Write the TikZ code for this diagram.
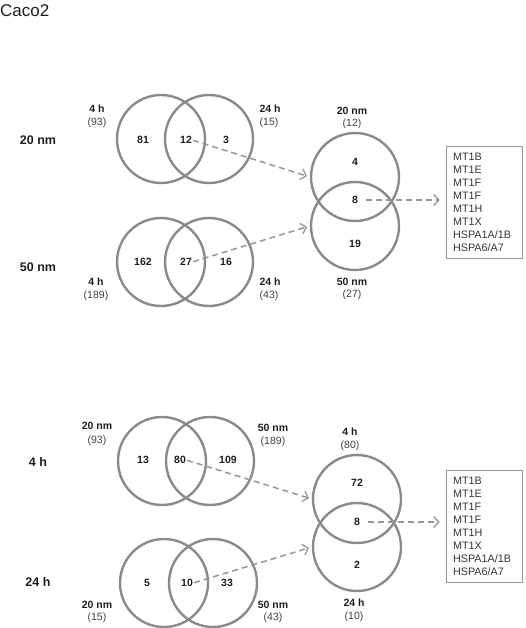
\documentclass[tikz,border=0pt]{standalone}
\usepackage{fontspec}
\setmainfont{Liberation Sans}
\usetikzlibrary{arrows.meta}
\definecolor{circgray}{RGB}{138,138,138}
\definecolor{arrgray}{RGB}{150,150,150}
\definecolor{txt}{RGB}{30,30,30}
\tikzset{
  vc/.style={circle,draw=circgray,line width=2.4pt,minimum size=88pt,inner sep=0pt},
  num/.style={font=\fontsize{10.5}{12}\selectfont\bfseries,text=txt,inner sep=0pt},
  lab/.style={font=\fontsize{10.5}{12}\selectfont\bfseries,text=txt,inner sep=0pt},
  cnt/.style={font=\fontsize{10.5}{12}\selectfont,text=txt!85,inner sep=0pt},
  rowlab/.style={font=\fontsize{12.5}{14}\selectfont\bfseries,text=txt,inner sep=0pt},
  dasharrow/.style={draw=arrgray,line width=1.5pt,dash pattern=on 6pt off 4pt,
    -{Straight Barb[length=5pt,width=11pt,line width=1.3pt]}},
  genebox/.style={draw=arrgray,line width=0.8pt,minimum width=76pt,minimum height=112pt,
    inner sep=0pt,align=left,text width=62pt,font=\fontsize{10.8}{13}\selectfont,text=txt!90},
}
\begin{document}
\begin{tikzpicture}[x=1pt,y=-1pt]
\useasboundingbox (0,0) rectangle (525,628);
\node[anchor=west,inner sep=0pt,font=\fontsize{17}{19}\selectfont,text=txt] (title) at (0,11) {Caco2};

% ---------- top section ----------
\node[rowlab] (r20) at (38,140) {20 nm};
\node[vc] (a1) at (161,139) {};
\node[vc] (a2) at (209,139) {};
\node[num] (n81) at (143,140) {81};
\node[num] (n12) at (186,140) {12};
\node[num] (n3) at (226,140) {3};
\node[lab] (la1) at (97,109) {4 h};
\node[cnt] (la1c) at (97,123) {(93)};
\node[lab] (la2) at (270,109) {24 h};
\node[cnt] (la2c) at (269,123) {(15)};

\node[rowlab] (r50) at (38,267) {50 nm};
\node[vc] (b1) at (161,262) {};
\node[vc] (b2) at (209,262) {};
\node[num] (n162) at (143,262) {162};
\node[num] (n27) at (186,262) {27};
\node[num] (n16) at (226,262) {16};
\node[lab] (lb1) at (96,282) {4 h};
\node[cnt] (lb1c) at (96,296) {(189)};
\node[lab] (lb2) at (270,282) {24 h};
\node[cnt] (lb2c) at (269,296) {(43)};

\node[vc] (e1) at (355,177) {};
\node[vc] (e2) at (355,226) {};
\node[num] (n4) at (355,162) {4};
\node[num] (n8a) at (355,200) {8};
\node[num] (n19) at (355,244) {19};
\node[lab] (le1) at (352,111) {20 nm};
\node[cnt] (le1c) at (352,124) {(12)};
\node[lab] (le2) at (352,282) {50 nm};
\node[cnt] (le2c) at (352,295) {(27)};

\node[genebox] (box1) at (484,202) {MT1B\\MT1E\\MT1F\\MT1F\\MT1H\\MT1X\\HSPA1A/1B\\HSPA6/A7};

\draw[dasharrow,shorten <=1pt,shorten >=3pt] (n12.east) -- (e1.west);
\draw[dasharrow,shorten <=1pt,shorten >=3pt] (n27.east) -- (e2.west);
\draw[dasharrow,shorten <=8pt,shorten >=6pt] (n8a.east) -- (box1.west |- n8a);

% ---------- bottom section ----------
\node[rowlab] (r4) at (38,462) {4 h};
\node[vc] (c1) at (162,461) {};
\node[vc] (c2) at (210,461) {};
\node[num] (n13) at (143,460) {13};
\node[num] (n80) at (180,460) {80};
\node[num] (n109) at (228,460) {109};
\node[lab] (lc1) at (97,426) {20 nm};
\node[cnt] (lc1c) at (97,441) {(93)};
\node[lab] (lc2) at (273,428) {50 nm};
\node[cnt] (lc2c) at (273,442) {(189)};

\node[rowlab] (r24) at (38,582) {24 h};
\node[vc] (d1) at (164,583) {};
\node[vc] (d2) at (213,583) {};
\node[num] (n5) at (147,583) {5};
\node[num] (n10) at (187,583) {10};
\node[num] (n33) at (227,583) {33};
\node[lab] (ld1) at (97,605) {20 nm};
\node[cnt] (ld1c) at (97,618) {(15)};
\node[lab] (ld2) at (273,605) {50 nm};
\node[cnt] (ld2c) at (273,618) {(43)};

\node[vc] (f1) at (357,499) {};
\node[vc] (f2) at (357,547) {};
\node[num] (n72) at (357,483) {72};
\node[num] (n8b) at (357,522) {8};
\node[num] (n2) at (357,565) {2};
\node[lab] (lf1) at (350,432) {4 h};
\node[cnt] (lf1c) at (350,446) {(80)};
\node[lab] (lf2) at (354,603) {24 h};
\node[cnt] (lf2c) at (354,617) {(10)};

\node[genebox] (box2) at (484,526) {MT1B\\MT1E\\MT1F\\MT1F\\MT1H\\MT1X\\HSPA1A/1B\\HSPA6/A7};

\draw[dasharrow,shorten <=1pt,shorten >=3pt] (n80.east) -- (f1.west);
\draw[dasharrow,shorten <=1pt,shorten >=3pt] (n10.east) -- (f2.west);
\draw[dasharrow,shorten <=8pt,shorten >=6pt] (n8b.east) -- (box2.west |- n8b);
\end{tikzpicture}
\end{document}
